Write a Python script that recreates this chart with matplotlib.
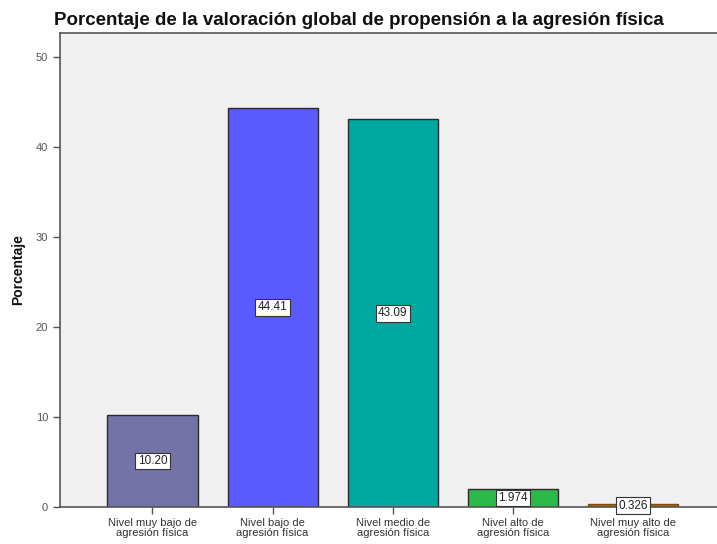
import matplotlib
matplotlib.use("Agg")
import matplotlib.pyplot as plt

categories = ["Nivel muy bajo de\nagresión física", "Nivel bajo de\nagresión física",
              "Nivel medio de\nagresión física", "Nivel alto de\nagresión física",
              "Nivel muy alto de\nagresión física"]
values = [10.20, 44.41, 43.09, 1.974, 0.326]
value_labels = ["10.20", "44.41", "43.09", "1.974", "0.326"]
colors = ["#7373a8", "#5a5aff", "#00a8a0", "#2cb84a", "#b0650f"]
yticks = [0, 10, 20, 30, 40, 50]

plt.rcParams['font.family'] = ['Liberation Sans', 'DejaVu Sans']

fig = plt.figure(figsize=(7.17, 5.44), dpi=100)
ax = fig.add_axes([0.0837, 0.068, 0.9163, 0.8713])
ax.set_facecolor("#f0f0f0")

x = list(range(len(categories)))
edgecols = ["#2a2a2a", "#2a2a2a", "#2a2a2a", "#2a2a2a", "#7a4a10"]
ax.bar(x, values, width=0.75, color=colors, edgecolor=edgecols, linewidth=1.0, zorder=2)
for xi, v, lab in zip(x, values, value_labels):
    ax.text(xi, v / 2, lab, ha="center", va="center", fontsize=8.5, color="#222222", zorder=5,
            bbox=dict(boxstyle="square,pad=0.2", facecolor="white", edgecolor="#333333", linewidth=0.8))

ax.set_xlim(-0.77, 4.7)
ax.set_ylim(0, 52.7)
ax.set_yticks(yticks)
ax.set_yticklabels([str(t) for t in yticks], fontsize=8, color="#555555")
ax.set_xticks(x)
ax.set_xticklabels(categories, fontsize=8, color="#333333", linespacing=1.0)
ax.tick_params(axis="both", length=5, color="#555555", width=1)
ax.tick_params(axis="x", pad=3)

for s in ["left", "bottom", "top"]:
    ax.spines[s].set_color("#555555")
    ax.spines[s].set_linewidth(1.2)
ax.spines["right"].set_visible(False)

ax.set_ylabel("Porcentaje", fontsize=10, fontweight="bold", color="#111111", labelpad=8)
fig.text(0.5, 0.962, "Porcentaje de la valoración global de propensión a la agresión física",
         ha="center", va="center", fontsize=13.5, fontweight="bold", color="#111111")

fig.savefig("out.png", dpi=100)
